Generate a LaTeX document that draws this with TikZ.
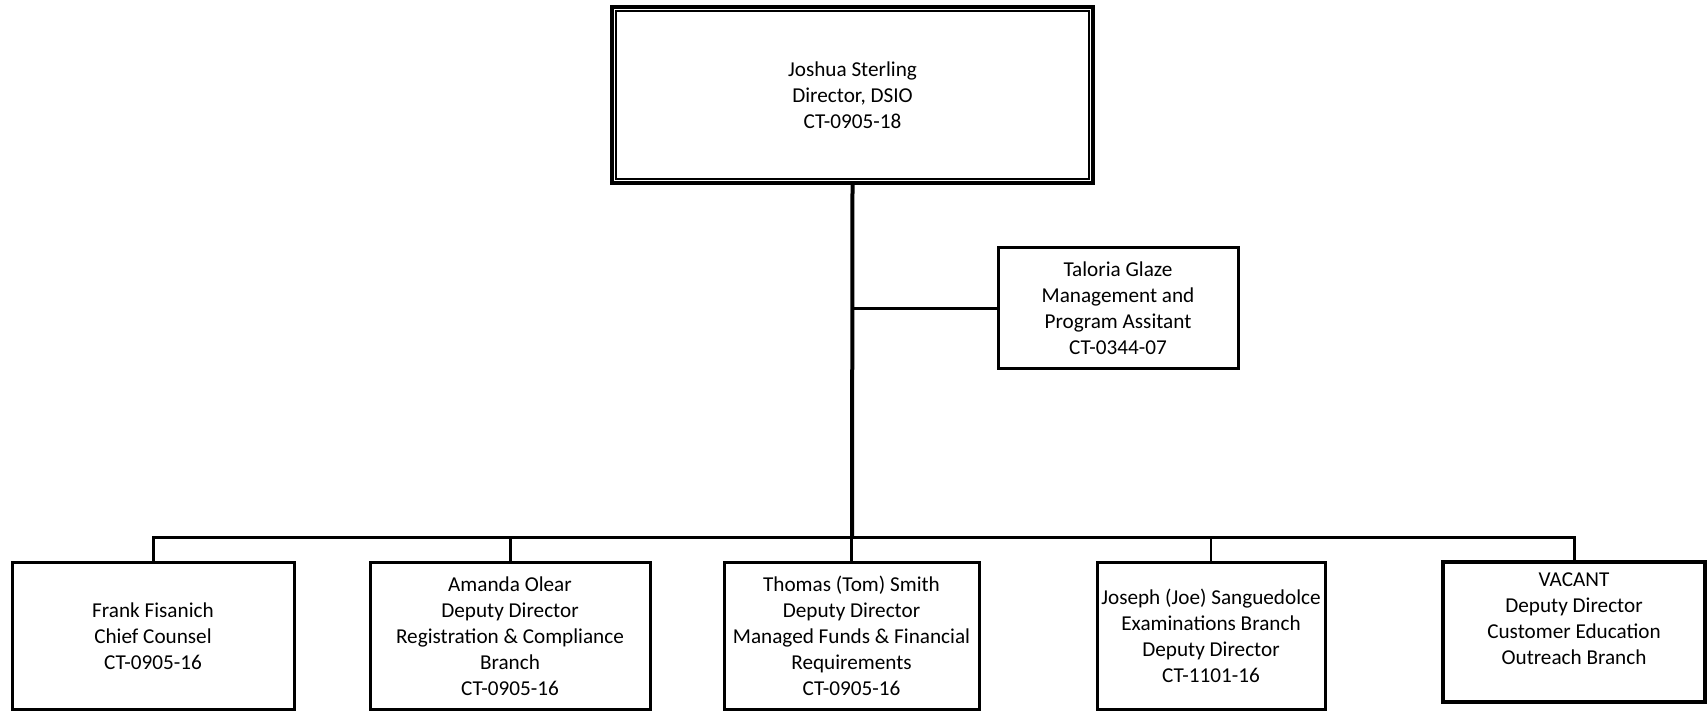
\documentclass[tikz,border=0pt]{standalone}
\usepackage{fontspec}
\setmainfont{Carlito}
\usepackage{tikz}

\begin{document}
\begin{tikzpicture}[x=0.5pt,y=-0.5pt,
  box/.style={draw, line width=1.5pt, align=center, inner xsep=1pt,
    font=\fontsize{10.6}{13}\selectfont},
  link/.style={line width=1.5pt}]
\useasboundingbox (0,0) rectangle (1707,711);
% director, with a double frame
\node[box, line width=2pt, minimum width=240.5pt, minimum height=88pt] (director) at (852.5,95)
  {Joshua Sterling\\Director, DSIO\\CT-0905-18};
\draw[line width=0.8pt] ([shift={(6,6)}]director.north west) rectangle ([shift={(-6,-6)}]director.south east);
\node[box, minimum width=120pt, minimum height=60pt] (assistant) at (1118,308)
  {Taloria Glaze\\Management and\\Program Assitant\\CT-0344-07};
% branch row
\node[box, minimum width=141pt, minimum height=73.5pt] (counsel) at (153,636)
  {Frank Fisanich\\Chief Counsel\\CT-0905-16};
\node[box, minimum width=140pt, minimum height=73.5pt] (olear) at (510,636)
  {Amanda Olear\\Deputy Director\\Registration \& Compliance\\Branch\\CT-0905-16};
\node[box, minimum width=127.5pt, minimum height=73.5pt] (smith) at (851.5,636)
  {Thomas (Tom) Smith\\Deputy Director\\Managed Funds \& Financial\\Requirements\\CT-0905-16};
\node[box, minimum width=114pt, minimum height=73.5pt] (sanguedolce) at (1211,636)
  {Joseph (Joe) Sanguedolce\\Examinations Branch\\Deputy Director\\CT-1101-16};
\node[box, line width=1.7pt, minimum width=131pt, minimum height=70pt] (vacant) at (1574,632)
  {VACANT\\Deputy Director\\Customer Education\\Outreach Branch\\\mbox{}};
\coordinate (bar) at (852,537);
% connectors
\draw[link, line width=2pt] (director.south) -- (bar);
\draw[link] (director.south |- assistant.west) -- (assistant.west);
\draw[link] (counsel.north) -- (counsel.north |- bar) -| (vacant.north);
\draw[link] (olear.north) -- (olear.north |- bar);
\draw[link] (smith.north) -- (smith.north |- bar);
\draw[link, line width=1pt] (sanguedolce.north) -- (sanguedolce.north |- bar);
\end{tikzpicture}
\end{document}
